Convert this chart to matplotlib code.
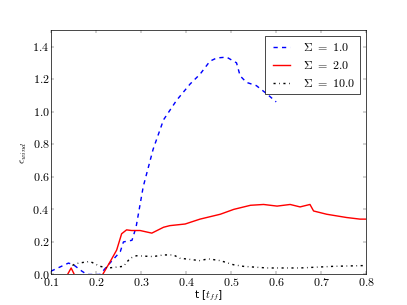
import matplotlib
matplotlib.use("Agg")
import matplotlib.pyplot as plt

# sigma = 1.0
t_s1 = [0.100, 0.139, 0.150, 0.169, 0.180, 0.209, 0.231, 0.254, 0.261, 0.280, 0.289, 0.305,
        0.327, 0.350, 0.379, 0.409, 0.431, 0.453, 0.468, 0.490, 0.512, 0.520, 0.534, 0.556,
        0.579, 0.600]
e_s1 = [0.02, 0.07, 0.06, 0.02, 0.0, 0.0, 0.07, 0.14, 0.20, 0.21, 0.29, 0.54,
        0.77, 0.95, 1.07, 1.17, 1.23, 1.31, 1.33, 1.335, 1.30, 1.22, 1.18, 1.16,
        1.11, 1.06]

# sigma = 2.0
t_s2 = [0.100, 0.130, 0.137, 0.145, 0.152, 0.180, 0.215, 0.231, 0.246, 0.257, 0.268, 0.279,
        0.298, 0.324, 0.350, 0.364, 0.398, 0.431, 0.476, 0.506, 0.543, 0.572, 0.602, 0.631,
        0.653, 0.675, 0.683, 0.712, 0.756, 0.786, 0.800]
e_s2 = [-0.05, -0.02, 0.0, 0.04, 0.0, -0.05, 0.0, 0.076, 0.15, 0.25, 0.274, 0.27,
        0.27, 0.254, 0.29, 0.30, 0.31, 0.34, 0.37, 0.40, 0.425, 0.43, 0.42, 0.43,
        0.415, 0.43, 0.39, 0.37, 0.35, 0.34, 0.34]

# sigma = 10.0
t_s10 = [0.148, 0.154, 0.176, 0.187, 0.209, 0.228, 0.261, 0.276, 0.290, 0.327, 0.350, 0.372,
         0.386, 0.416, 0.431, 0.449, 0.476, 0.505, 0.527, 0.579, 0.653, 0.727, 0.800]
e_s10 = [0.055, 0.066, 0.076, 0.08, 0.05, 0.04, 0.05, 0.10, 0.115, 0.11, 0.12, 0.12,
         0.10, 0.09, 0.085, 0.096, 0.085, 0.06, 0.05, 0.04, 0.04, 0.05, 0.055]

labels = [r'$\Sigma\ =\ 1.0$', r'$\Sigma\ =\ 2.0$', r'$\Sigma\ =\ 10.0$']

plt.style.use('classic')
plt.rcParams['font.family'] = 'serif'
plt.rcParams['font.serif'] = ['cmr10']
plt.rcParams['mathtext.fontset'] = 'cm'
plt.rcParams['axes.formatter.use_mathtext'] = True

fig = plt.figure(figsize=(8, 6), dpi=50.875)
ax = fig.add_subplot(111)

ax.plot(t_s1, e_s1, 'b--', lw=2, label=labels[0])
ax.plot(t_s2, e_s2, 'r-', lw=2, label=labels[1])
ax.plot(t_s10, e_s10, 'k-.', lw=2, label=labels[2])

ax.set_xlim(0.1, 0.8)
ax.set_ylim(0, 1.5)
ax.set_xticks([0.1, 0.2, 0.3, 0.4, 0.5, 0.6, 0.7, 0.8])
ax.set_yticks([0.0, 0.2, 0.4, 0.6, 0.8, 1.0, 1.2, 1.4])
ax.tick_params(labelsize=17, pad=2)
ax.set_xlabel(r't [$t_{ff}$]', fontfamily='DejaVu Sans', fontsize=15, labelpad=0)
ax.set_ylabel(r'$\epsilon_{wind}$', fontsize=15)
ax.legend(loc='upper right', fancybox=False, prop={'size': 17})

fig.savefig('out.png', dpi=50.875)
